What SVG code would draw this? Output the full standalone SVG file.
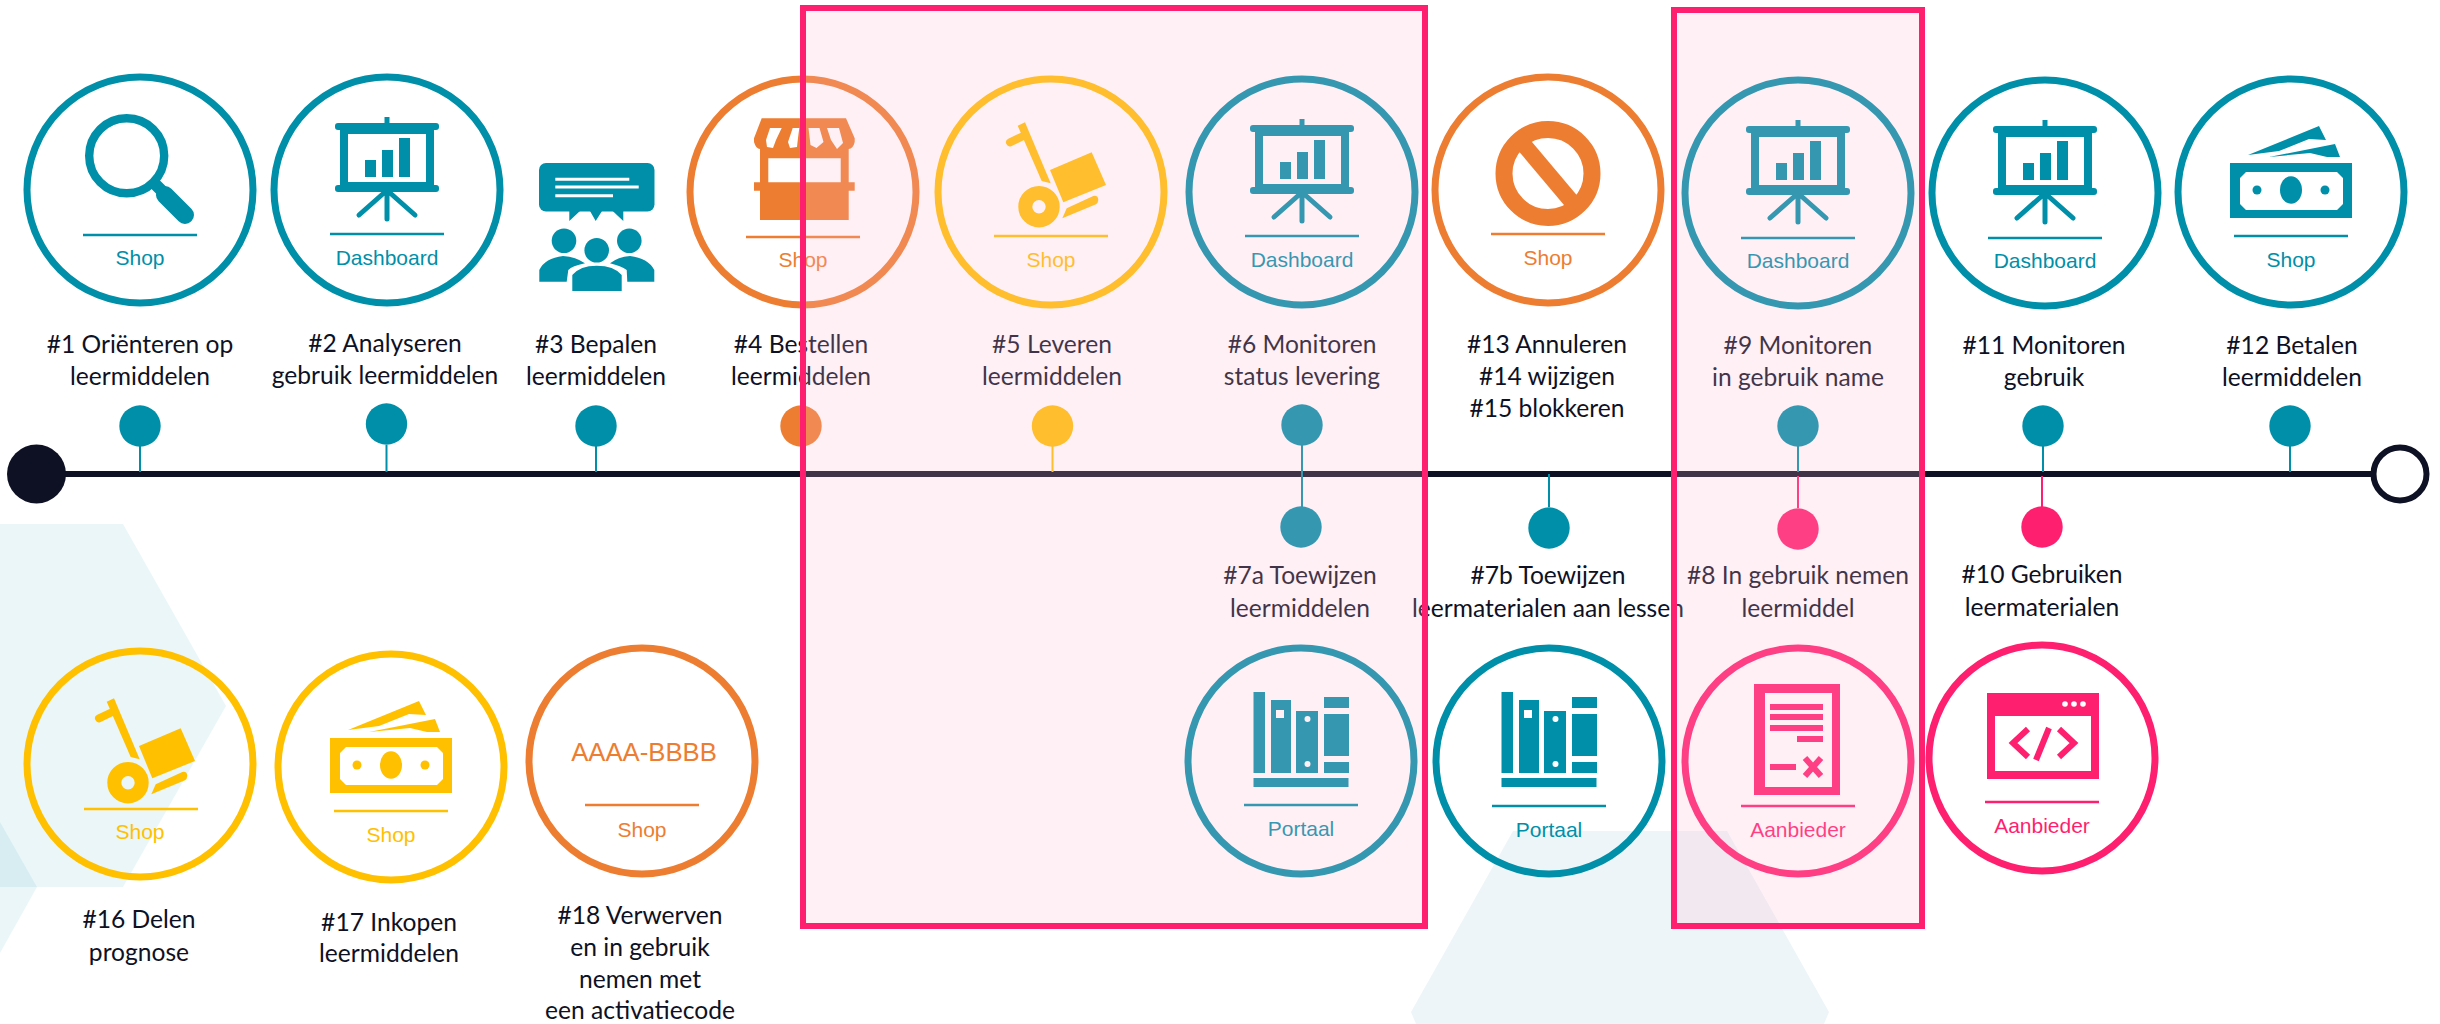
<svg xmlns="http://www.w3.org/2000/svg" width="2440" height="1024" viewBox="0 0 2440 1024">
<style>
.teal{color:#008fa8}.orange{color:#ed7d31}.yellow{color:#ffc000}.pink{color:#ff1f6f}
.ring{fill:none;stroke:currentColor;stroke-width:7}
.sep{stroke:currentColor;stroke-width:2.5}
.sub{font-family:"Liberation Sans",Arial,sans-serif;font-size:21px;fill:currentColor;text-anchor:middle}
.lbl{font-family:Lato,"Liberation Sans",sans-serif;font-size:25.500px;fill:#0e1124;text-anchor:middle;transform-box:fill-box;transform-origin:center;transform:scaleX(.965)}
.dot{fill:currentColor}
.stem{stroke-width:2;fill:none}
.ink{fill:currentColor}
.hex{fill:#008fa8;opacity:.08}
.frame{fill:#ffb8d6;fill-opacity:.21;stroke:#ff1f6f;stroke-width:6}
</style>
<defs>
<g id="i-dash" class="ink">
<rect x="-2.500" y="-73" width="5" height="8"/>
<rect x="-52" y="-67" width="104" height="7" rx="3"/>
<rect x="-52" y="-5" width="104" height="7" rx="3"/>
<path fill-rule="evenodd" d="M-47-62H47V-3H-47ZM-39-56V-8H39V-56Z"/>
<rect x="-22" y="-30" width="11" height="17"/><rect x="-5" y="-40" width="11" height="27"/><rect x="12" y="-52" width="11" height="39"/>
<path d="M0 0V29M-2 2-28 25M2 2 28 25" fill="none" stroke="currentColor" stroke-width="5" stroke-linecap="round"/>
</g>
<g id="i-lens">
<circle cx="-13.300" cy="-34.300" r="37.500" fill="none" stroke="currentColor" stroke-width="8.400"/>
<path d="M14-7 25 4" fill="none" stroke="currentColor" stroke-width="12"/>
<path d="M25 5 45 25" fill="none" stroke="currentColor" stroke-width="18" stroke-linecap="round"/>
</g>
<g id="i-shop" class="ink">
<path fill-rule="evenodd" d="M-41.300-73.700H43L51.700-53.700V-50Q50-43 45.700-43V-9.700H51.700V-1.300H45.700V28H-43V-1.300H-49V-9.700H-43V-43Q-47-43-49-50V-53.700ZM-33-64-37-52-36-45-30-44-27-52-21.300-64ZM-10.300-64-15-50-13-44-6-45-5-54-3.700-64ZM5.500-64 7.500-47 13.500-44 20.500-50 16.500-64ZM24-64 28-52 34-43 40-49 36-64ZM-34.700-33.700V-9.700H37.700V-33.700Z"/>
</g>
<g id="i-dolly" class="ink">
<path d="M-33.300-66.300-26-69.700-.3-8.700-9.300-11Z"/>
<path d="M-41-49.700-27.700-56" fill="none" stroke="currentColor" stroke-width="8" stroke-linecap="round"/>
<circle cx="-12" cy="14.700" r="13.700" fill="none" stroke="currentColor" stroke-width="14"/>
<path d="M40.700-39.700 55-7 12.300 10.300-1-22Z"/>
<path d="M15.700 16.300 42.300 4Q47 3 47.300 8 47 11 45 12.300L11.300 26.300Z"/>
</g>
<g id="i-ban">
<circle cx="0" cy="-16.500" r="44" fill="none" stroke="currentColor" stroke-width="17"/>
<path d="M-32-54.500 32 21.500" fill="none" stroke="currentColor" stroke-width="16"/>
</g>
<g id="i-cash" class="ink">
<path fill-rule="evenodd" d="M-61-29H61V26H-61ZM-45-20-51-14V12L-45 18H46L52 12V-14L46-20Z"/>
<ellipse cx="0" cy="-2" rx="11" ry="13.700"/><circle cx="-34" cy="-2" r="4.500"/><circle cx="34" cy="-2" r="4.500"/>
<path d="M-43-37 28-66 35-52 18-53-12-41Z"/><path d="M-22-35 44-48 49-35 36-35 19-39Z"/>
</g>
<g id="i-books" class="ink">
<rect x="-47.500" y="17" width="95" height="9"/>
<rect x="-47.500" y="-69" width="11.500" height="81"/>
<path fill-rule="evenodd" d="M-30-61H-10V12H-30ZM-25-51V-43H-17V-51Z"/>
<path fill-rule="evenodd" d="M-5-50H17V12H-5ZM9.500-42a3 3 0 1 0-6 0 3 3 0 1 0 6 0ZM9.500 3a3 3 0 1 0-6 0 3 3 0 1 0 6 0Z"/>
<rect x="23" y="-64" width="25" height="11"/><rect x="23" y="-47" width="25" height="42"/><rect x="23" y="1" width="25" height="11"/>
</g>
<g id="i-doc" class="ink">
<path fill-rule="evenodd" d="M-44-77H42V34H-44ZM-33-68V26H34V-68Z"/>
<rect x="-28" y="-57" width="53" height="6"/><rect x="-28" y="-47" width="53" height="6"/><rect x="-28" y="-36" width="53" height="6"/><rect x="-1" y="-25" width="26" height="6"/><rect x="-28" y="3" width="26" height="6"/>
<path d="M7-3 23 15M23-3 7 15" fill="none" stroke="currentColor" stroke-width="6"/>
</g>
<g id="i-code">
<path class="ink" fill-rule="evenodd" d="M-55-65H57V21H-55ZM-47-42V13H49V-42Z"/>
<circle cx="23" cy="-54" r="2.800" fill="#fff"/><circle cx="32" cy="-54" r="2.800" fill="#fff"/><circle cx="41" cy="-54" r="2.800" fill="#fff"/>
<path d="M-14-29-29-15-14-1M17-29 32-15 17-1M7-30-6 2" fill="none" stroke="currentColor" stroke-width="6"/>
</g>
</defs>

<g id="background">
<path class="hex" d="M0 524H123L226 706 123 887H0Z"/>
<path class="hex" d="M0 822 37 887 0 953Z"/>
<path fill="#edf5f8" d="M1513 831H1727L1829 1012 1824 1024H1416L1411 1012Z"/>
</g>

<g id="connectors">
<path d="M36 474H2400" stroke="#0e1124" stroke-width="6" fill="none"/>
<g class="teal" stroke="currentColor">
<path class="stem" d="M140 446V472M386.500 445V472M596 446V472M1302 445V507M1549 474V507M1798 446V472M2043 446V472M2290 446V472"/>
</g>
<path class="stem orange" stroke="currentColor" d="M801 446V472"/>
<path class="stem yellow" stroke="currentColor" d="M1052.500 446V472"/>
<path class="stem pink" stroke="currentColor" d="M1798 476V508M2042 476V507"/>
<circle id="start" cx="36.500" cy="474" r="29.500" fill="#0e1124"/>
<circle id="end" cx="2400" cy="474" r="26.500" fill="#fff" stroke="#0e1124" stroke-width="6"/>
</g>

<g id="node-1" class="teal"><circle class="ring" cx="140" cy="190" r="113"/><use href="#i-lens" x="140" y="190"/><path class="sep" d="M83 235H197"/><text class="sub" x="140" y="265">Shop</text><text class="lbl" x="140" y="353">#1 Oriënteren op</text><text class="lbl" x="140" y="385">leermiddelen</text><circle class="dot" cx="140" cy="426" r="20.700"/></g>
<g id="node-2" class="teal"><circle class="ring" cx="387" cy="190" r="113"/><use href="#i-dash" x="387" y="190"/><path class="sep" d="M330 234H444"/><text class="sub" x="387" y="265">Dashboard</text><text class="lbl" x="385" y="352">#2 Analyseren</text><text class="lbl" x="385" y="384">gebruik leermiddelen</text><circle class="dot" cx="386.500" cy="424" r="20.700"/></g>
<g id="node-3" class="teal">
<g class="ink"><rect x="539" y="163" width="115.500" height="48.500" rx="7"/><path d="M569.300 211 569.300 221 580 211ZM590 211 595.700 221 602 211ZM612.700 211 623.300 221 623.300 211Z"/>
<circle cx="564" cy="240.700" r="12.300"/><circle cx="629.300" cy="240.700" r="12.300"/><circle cx="596.700" cy="250.300" r="12.300"/>
<path d="M539.300 281.700V270Q545 258 563 256 576 257 585 263.300 572 266 568.300 270L566.700 281.700ZM654.300 281.700V270Q648 258 630 256 618 257 610 263.300 621 266 626.700 270L627.300 281.700ZM572.300 291V275Q580 265.700 596.700 265.700 614 265.700 621.700 275V291Z"/></g>
<path d="M555.300 179.300H629.300M555.300 187H638.700M555.300 195.700H613" stroke="#fff" stroke-width="3"/>
<text class="lbl" x="596" y="353">#3 Bepalen</text><text class="lbl" x="596" y="385">leermiddelen</text><circle class="dot" cx="596" cy="426" r="20.700"/></g>
<g id="node-4" class="orange"><circle class="ring" cx="803" cy="192" r="113"/><use href="#i-shop" x="803" y="192"/><path class="sep" d="M746 237H860"/><text class="sub" x="803" y="267">Shop</text><text class="lbl" x="801" y="353">#4 Bestellen</text><text class="lbl" x="801" y="385">leermiddelen</text><circle class="dot" cx="801" cy="426" r="20.700"/></g>
<g id="node-5" class="yellow"><circle class="ring" cx="1051" cy="192" r="113"/><use href="#i-dolly" x="1051" y="192"/><path class="sep" d="M994 236H1108"/><text class="sub" x="1051" y="267">Shop</text><text class="lbl" x="1052" y="353">#5 Leveren</text><text class="lbl" x="1052" y="385">leermiddelen</text><circle class="dot" cx="1052.500" cy="426" r="20.700"/></g>
<g id="node-6" class="teal"><circle class="ring" cx="1302" cy="192" r="113"/><use href="#i-dash" x="1302" y="192"/><path class="sep" d="M1245 236H1359"/><text class="sub" x="1302" y="267">Dashboard</text><text class="lbl" x="1302" y="353">#6 Monitoren</text><text class="lbl" x="1302" y="385">status levering</text><circle class="dot" cx="1302" cy="425" r="20.700"/></g>
<g id="node-13" class="orange"><circle class="ring" cx="1548" cy="190" r="113"/><use href="#i-ban" x="1548" y="190"/><path class="sep" d="M1491 234H1605"/><text class="sub" x="1548" y="265">Shop</text><text class="lbl" x="1547" y="353">#13 Annuleren</text><text class="lbl" x="1547" y="385">#14 wijzigen</text><text class="lbl" x="1547" y="417">#15 blokkeren</text></g>
<g id="node-9" class="teal"><circle class="ring" cx="1798" cy="193" r="113"/><use href="#i-dash" x="1798" y="193"/><path class="sep" d="M1741 238H1855"/><text class="sub" x="1798" y="268">Dashboard</text><text class="lbl" x="1798" y="354">#9 Monitoren</text><text class="lbl" x="1798" y="386">in gebruik name</text><circle class="dot" cx="1798" cy="426" r="20.700"/></g>
<g id="node-11" class="teal"><circle class="ring" cx="2045" cy="193" r="113"/><use href="#i-dash" x="2045" y="193"/><path class="sep" d="M1988 238H2102"/><text class="sub" x="2045" y="268">Dashboard</text><text class="lbl" x="2044" y="354">#11 Monitoren</text><text class="lbl" x="2044" y="386">gebruik</text><circle class="dot" cx="2043" cy="426" r="20.700"/></g>
<g id="node-12" class="teal"><circle class="ring" cx="2291" cy="192" r="113"/><use href="#i-cash" x="2291" y="192"/><path class="sep" d="M2234 236H2348"/><text class="sub" x="2291" y="267">Shop</text><text class="lbl" x="2292" y="354">#12 Betalen</text><text class="lbl" x="2292" y="386">leermiddelen</text><circle class="dot" cx="2290" cy="426" r="20.700"/></g>
<g id="node-7a" class="teal"><circle class="dot" cx="1301" cy="527" r="20.700"/><text class="lbl" x="1300" y="584">#7a Toewijzen</text><text class="lbl" x="1300" y="617">leermiddelen</text><circle class="ring" cx="1301" cy="761" r="113"/><use href="#i-books" x="1301" y="761"/><path class="sep" d="M1244 805H1358"/><text class="sub" x="1301" y="836">Portaal</text></g>
<g id="node-7b" class="teal"><circle class="dot" cx="1549" cy="528" r="20.700"/><text class="lbl" x="1548" y="584">#7b Toewijzen</text><text class="lbl" x="1548" y="617">leermaterialen aan lessen</text><circle class="ring" cx="1549" cy="761" r="113"/><use href="#i-books" x="1549" y="761"/><path class="sep" d="M1492 806H1606"/><text class="sub" x="1549" y="837">Portaal</text></g>
<g id="node-8" class="pink"><circle class="dot" cx="1798" cy="529" r="20.700"/><text class="lbl" x="1798" y="584">#8 In gebruik nemen</text><text class="lbl" x="1798" y="617">leermiddel</text><circle class="ring" cx="1798" cy="761" r="113"/><use href="#i-doc" x="1798" y="761"/><path class="sep" d="M1741 806H1855"/><text class="sub" x="1798" y="837">Aanbieder</text></g>
<g id="node-10" class="pink"><circle class="dot" cx="2042" cy="527" r="20.700"/><text class="lbl" x="2042" y="583">#10 Gebruiken</text><text class="lbl" x="2042" y="616">leermaterialen</text><circle class="ring" cx="2042" cy="758" r="113"/><use href="#i-code" x="2042" y="758"/><path class="sep" d="M1985 802H2099"/><text class="sub" x="2042" y="833">Aanbieder</text></g>
<g id="node-16" class="yellow"><circle class="ring" cx="140" cy="764" r="113"/><use href="#i-dolly" x="140" y="768"/><path class="sep" d="M84 809H198"/><text class="sub" x="140" y="839">Shop</text><text class="lbl" x="139" y="928">#16 Delen</text><text class="lbl" x="139" y="961">prognose</text></g>
<g id="node-17" class="yellow"><circle class="ring" cx="391" cy="767" r="113"/><use href="#i-cash" x="391" y="767"/><path class="sep" d="M334 811H448"/><text class="sub" x="391" y="842">Shop</text><text class="lbl" x="389" y="931">#17 Inkopen</text><text class="lbl" x="389" y="962">leermiddelen</text></g>
<g id="node-18" class="orange"><circle class="ring" cx="642" cy="761" r="113"/><text class="sub" x="644" y="761" style="font-size:25.700px">AAAA-BBBB</text><path class="sep" d="M585 805H699"/><text class="sub" x="642" y="837">Shop</text><text class="lbl" x="640" y="924">#18 Verwerven</text><text class="lbl" x="640" y="956">en in gebruik</text><text class="lbl" x="640" y="988">nemen met</text><text class="lbl" x="640" y="1019">een activatiecode</text></g>

<g id="highlights">
<rect class="frame" x="803" y="8" width="622" height="918"/>
<rect class="frame" x="1674" y="10" width="248" height="916"/>
</g>
</svg>
